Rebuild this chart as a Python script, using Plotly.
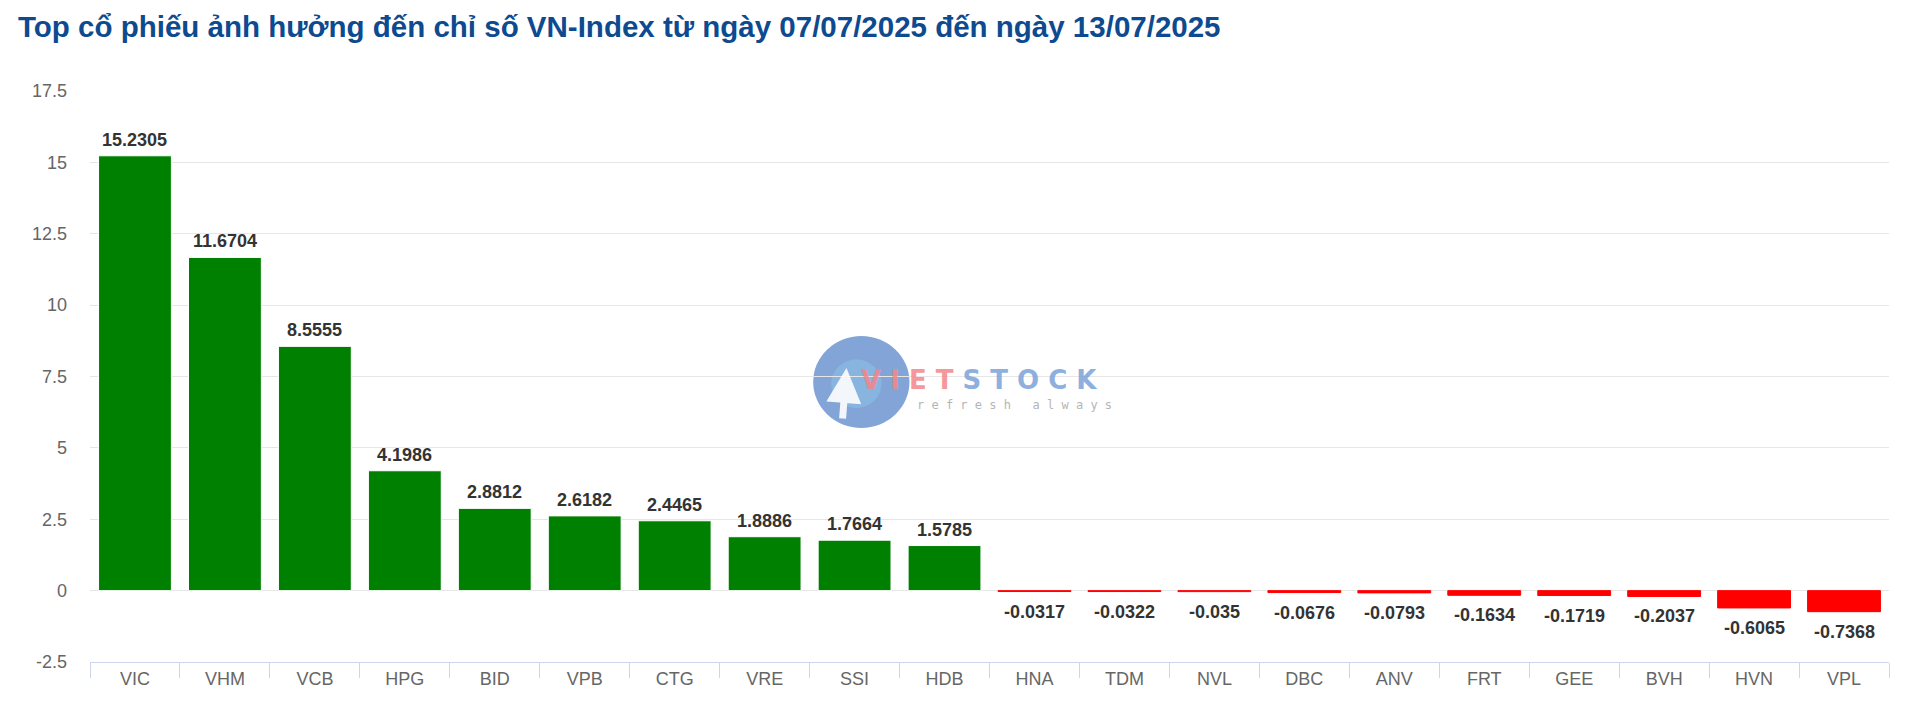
import plotly.graph_objects as go

categories = ["VIC", "VHM", "VCB", "HPG", "BID", "VPB", "CTG", "VRE", "SSI", "HDB",
              "HNA", "TDM", "NVL", "DBC", "ANV", "FRT", "GEE", "BVH", "HVN", "VPL"]
values = [15.2305, 11.6704, 8.5555, 4.1986, 2.8812, 2.6182, 2.4465, 1.8886, 1.7664, 1.5785,
          -0.0317, -0.0322, -0.035, -0.0676, -0.0793, -0.1634, -0.1719, -0.2037, -0.6065, -0.7368]
labels = ["15.2305", "11.6704", "8.5555", "4.1986", "2.8812", "2.6182", "2.4465", "1.8886",
          "1.7664", "1.5785", "-0.0317", "-0.0322", "-0.035", "-0.0676", "-0.0793", "-0.1634",
          "-0.1719", "-0.2037", "-0.6065", "-0.7368"]
y_ticks = [-2.5, 0, 2.5, 5, 7.5, 10, 12.5, 15, 17.5]
y_ticktext = ["-2.5", "0", "2.5", "5", "7.5", "10", "12.5", "15", "17.5"]
title_text = "Top cổ phiếu ảnh hưởng đến chỉ số VN-Index từ ngày 07/07/2025 đến ngày 13/07/2025"

FONT = "Liberation Sans, Arial, Helvetica, sans-serif"
colors = ["#008000" if v >= 0 else "#ff0000" for v in values]
line_colors = ["#ffffff" if v >= 0 else "#ff0000" for v in values]

# page body has an 8px default margin, so the figure is sized/offset to compensate
W, H = 1912, 711

fig = go.Figure()
fig.add_trace(go.Bar(
    x=categories, y=values,
    marker=dict(color=colors, line=dict(color=line_colors, width=1)),
    hoverinfo="x+y",
))

annotations = []
for c, v, t in zip(categories, values, labels):
    pos = v >= 0
    annotations.append(dict(x=c, y=v, text=t, showarrow=False, xref="x", yref="y",
                            yanchor="bottom" if pos else "top", yshift=4 if pos else -8,
                            font=dict(family=FONT, size=18, color="#333333", weight="bold")))

# watermark (VietStock logo approximation)
annotations.append(dict(xref="paper", yref="paper", x=0.4275, y=0.4945, xanchor="left", yanchor="middle",
                        text="<span style='color:#f4868a'>V I E T</span> <span style='color:#7aa3da'>S T O C K</span>",
                        showarrow=False, font=dict(family="DejaVu Sans", size=26, weight="bold"), opacity=0.85))
annotations.append(dict(xref="paper", yref="paper", x=0.4585, y=0.450, xanchor="left", yanchor="middle",
                        text="r e f r e s h   a l w a y s", showarrow=False,
                        font=dict(family="DejaVu Sans Mono", size=12, color="#b5b5b5")))
annotations.append(dict(xref="paper", yref="paper", x=0.4205, y=0.515, axref="pixel", ayref="pixel",
                        ax=-4, ay=52, showarrow=True, arrowhead=2, arrowsize=1.0, arrowwidth=7,
                        arrowcolor="rgba(255,255,255,0.9)", text=""))

fig.update_layout(
    width=W, height=H,
    margin=dict(l=82, r=31, t=83, b=57, autoexpand=False),
    paper_bgcolor="#ffffff", plot_bgcolor="#ffffff",
    bargap=0.19,
    showlegend=False,
    title=dict(text=title_text, x=10 / W, xref="container", xanchor="left",
               y=1 - 19 / H, yanchor="middle", pad=dict(l=0, t=0, b=0, r=0),
               font=dict(family=FONT, size=29.5, color="#0d4a8f", weight="bold")),
    annotations=annotations,
    shapes=[
        dict(type="circle", xref="paper", yref="paper", x0=0.402, x1=0.4555, y0=0.410, y1=0.571,
             fillcolor="#6c94d0", line=dict(width=0), opacity=0.85, layer="below"),
        dict(type="circle", xref="paper", yref="paper", x0=0.412, x1=0.440, y0=0.445, y1=0.530,
             fillcolor="#8cc0e6", line=dict(width=0), opacity=0.6, layer="below"),
    ],
)

fig.update_xaxes(
    type="category", showgrid=False, showline=True, linecolor="#ccd6eb", linewidth=1,
    ticks="outside", tickson="boundaries", ticklen=15, tickcolor="#ccd6eb", tickwidth=1,
    tickfont=dict(family=FONT, size=18, color="#666666"),
    zeroline=False, automargin=False,
)
fig.update_yaxes(
    range=[-2.5, 17.5], tickvals=y_ticks, ticktext=y_ticktext,
    showgrid=True, gridcolor="#e6e6e6", gridwidth=1,
    zeroline=True, zerolinecolor="#e6e6e6", zerolinewidth=1,
    showline=False, ticks="", ticklabelstandoff=22, automargin=False,
    tickfont=dict(family=FONT, size=18, color="#666666"),
)

fig.write_html("out.html")
